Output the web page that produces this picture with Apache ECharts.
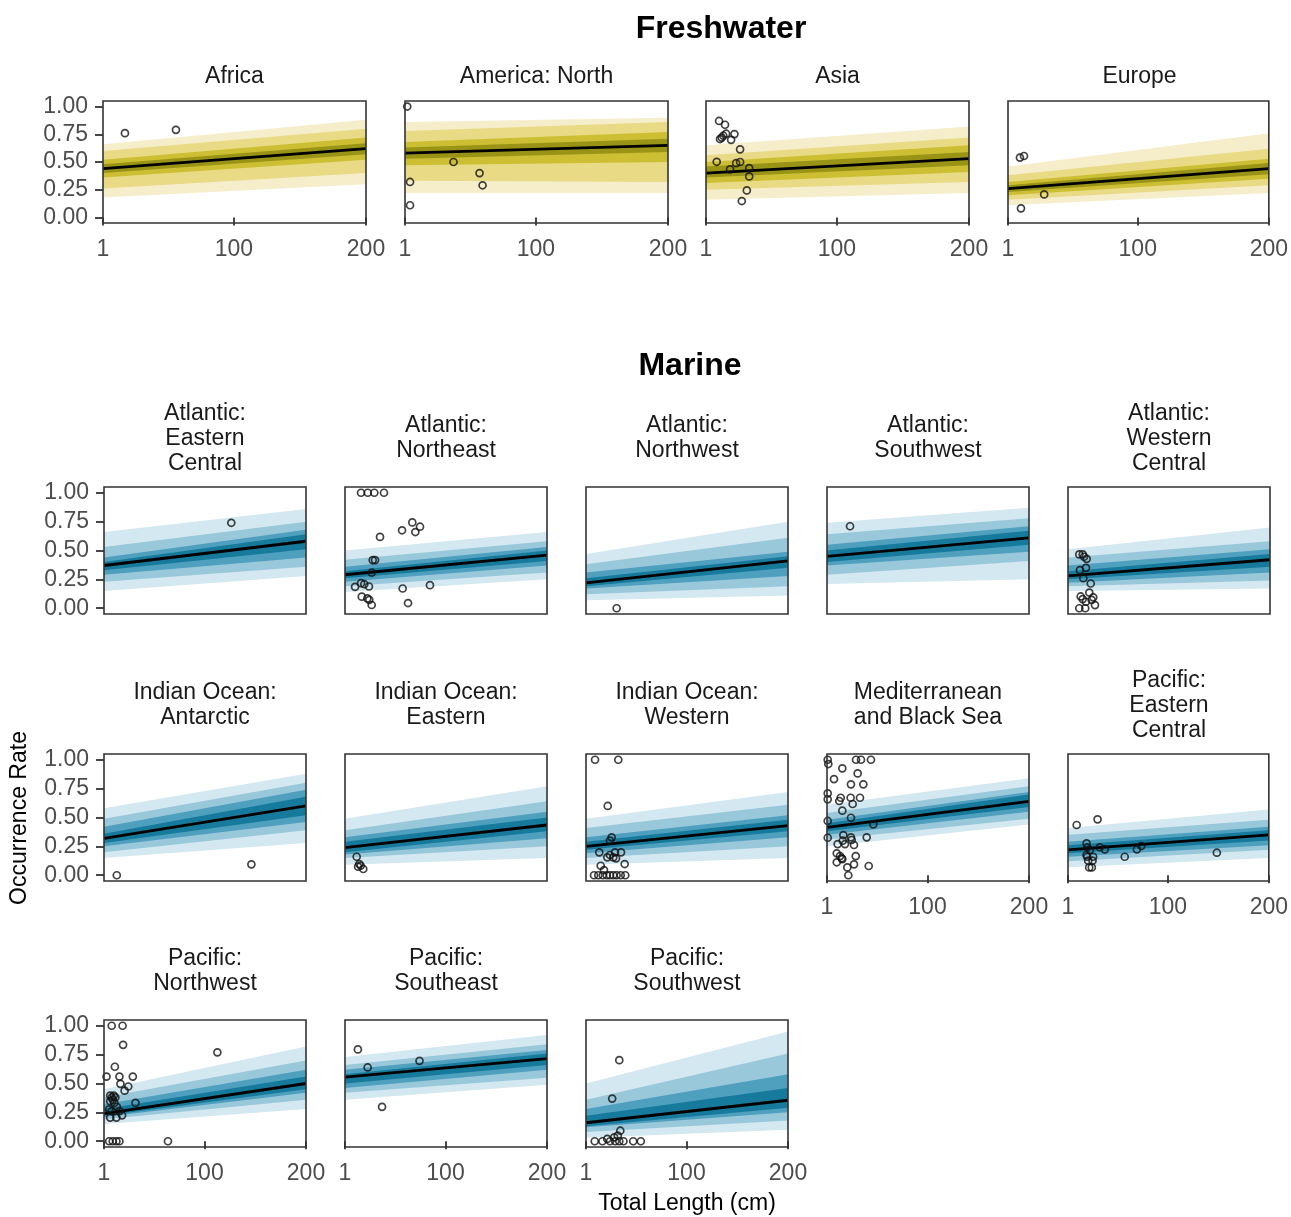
<!DOCTYPE html>
<html>
<head>
<meta charset="utf-8">
<script src="https://cdn.jsdelivr.net/npm/echarts@6/dist/echarts.min.js"></script>
<style>
  html, body { margin: 0; padding: 0; background: #ffffff; }
  #chart { width: 1291px; height: 1217px; }
</style>
</head>
<body>
<div id="chart"></div>
<script>
// Posterior occurrence rate vs. total length, by habitat and FAO region.
// Each band array holds [value at 1 cm, value at 200 cm] for the
// 99%, 95%, 80% and 50% intervals (outer to inner).
const LENGTH_STOPS = [1, 200];
const X_TICKS = [1, 100, 200];
const Y_TICKS = [0, 0.25, 0.5, 0.75, 1];

// ---- Freshwater ----
const africaMedian = [0.44, 0.62];
const africaLo = [[0.18, 0.30], [0.26, 0.40], [0.36, 0.52], [0.40, 0.57]];
const africaHi = [[0.66, 0.88], [0.60, 0.80], [0.52, 0.72], [0.48, 0.67]];
const africaObs = [[17.6, 0.76], [56.2, 0.79]];

const americaNorthMedian = [0.58, 0.65];
const americaNorthLo = [[0.22, 0.22], [0.33, 0.32], [0.47, 0.50], [0.53, 0.59]];
const americaNorthHi = [[0.86, 0.90], [0.78, 0.86], [0.68, 0.77], [0.63, 0.71]];
const americaNorthObs = [[2.7, 1.0], [4.8, 0.32], [4.8, 0.11], [37.7, 0.50], [57.4, 0.40], [59.7, 0.29]];

const asiaMedian = [0.40, 0.53];
const asiaLo = [[0.16, 0.22], [0.25, 0.32], [0.31, 0.41], [0.36, 0.47]];
const asiaHi = [[0.65, 0.82], [0.56, 0.72], [0.50, 0.65], [0.46, 0.59]];
const asiaObs = [[10.9, 0.87], [15.4, 0.836], [11.6, 0.707], [12.9, 0.72], [14.1, 0.737], [16.2, 0.755],
  [22.5, 0.752], [20.0, 0.70], [26.8, 0.614], [9.1, 0.502], [23.8, 0.49], [26.8, 0.50], [19.2, 0.434],
  [33.7, 0.445], [33.7, 0.37], [31.9, 0.244], [28.1, 0.148]];

const europeMedian = [0.26, 0.44];
const europeLo = [[0.11, 0.22], [0.16, 0.29], [0.20, 0.35], [0.23, 0.39]];
const europeHi = [[0.46, 0.76], [0.38, 0.62], [0.32, 0.53], [0.29, 0.49]];
const europeObs = [[10.1, 0.54], [13.2, 0.554], [10.9, 0.082], [28.6, 0.208]];

// ---- Marine ----
const atlEastCentralMedian = [0.37, 0.58];
const atlEastCentralLo = [[0.15, 0.28], [0.23, 0.36], [0.29, 0.44], [0.33, 0.51]];
const atlEastCentralHi = [[0.66, 0.86], [0.53, 0.75], [0.44, 0.68], [0.40, 0.64]];
const atlEastCentralObs = [[126.4, 0.74]];

const atlNortheastMedian = [0.29, 0.46];
const atlNortheastLo = [[0.14, 0.25], [0.19, 0.31], [0.23, 0.37], [0.26, 0.41]];
const atlNortheastHi = [[0.50, 0.66], [0.42, 0.58], [0.36, 0.53], [0.32, 0.50]];
const atlNortheastObs = [[16.8, 1.0], [23.4, 1.0], [29.9, 1.0], [39.4, 1.0], [35.5, 0.618], [57.2, 0.675],
  [67.3, 0.743], [74.9, 0.706], [70.3, 0.66], [28.3, 0.417], [30.6, 0.417], [27.3, 0.308], [10.9, 0.185],
  [16.8, 0.217], [20.0, 0.208], [24.6, 0.188], [57.8, 0.171], [84.7, 0.20], [17.5, 0.10], [23.0, 0.085],
  [24.9, 0.073], [27.3, 0.028], [63.1, 0.045]];

const atlNorthwestMedian = [0.22, 0.41];
const atlNorthwestLo = [[0.07, 0.11], [0.12, 0.19], [0.17, 0.28], [0.19, 0.35]];
const atlNorthwestHi = [[0.47, 0.75], [0.38, 0.61], [0.31, 0.49], [0.26, 0.45]];
const atlNorthwestObs = [[31.2, 0.0]];

const atlSouthwestMedian = [0.45, 0.61];
const atlSouthwestLo = [[0.21, 0.25], [0.29, 0.41], [0.37, 0.49], [0.40, 0.55]];
const atlSouthwestHi = [[0.74, 0.87], [0.64, 0.78], [0.55, 0.71], [0.50, 0.67]];
const atlSouthwestObs = [[23.7, 0.71]];

const atlWestCentralMedian = [0.28, 0.42];
const atlWestCentralLo = [[0.15, 0.17], [0.19, 0.24], [0.22, 0.31], [0.25, 0.36]];
const atlWestCentralHi = [[0.51, 0.70], [0.44, 0.58], [0.37, 0.51], [0.32, 0.47]];
const atlWestCentralObs = [[12.1, 0.466], [15.5, 0.466], [19.4, 0.428], [16.8, 0.446], [18.7, 0.35],
  [12.8, 0.33], [16.1, 0.26], [23.4, 0.214], [22.0, 0.136], [13.5, 0.102], [15.5, 0.079], [18.7, 0.056],
  [25.9, 0.094], [27.6, 0.027], [12.1, 0.0], [18.0, 0.0], [24.3, 0.073]];

const indAntarcticMedian = [0.32, 0.60];
const indAntarcticLo = [[0.15, 0.28], [0.20, 0.39], [0.25, 0.46], [0.28, 0.52]];
const indAntarcticHi = [[0.58, 0.88], [0.49, 0.80], [0.42, 0.74], [0.36, 0.68]];
const indAntarcticObs = [[13.6, 0.0], [146.2, 0.094]];

const indEasternMedian = [0.24, 0.435];
const indEasternLo = [[0.09, 0.15], [0.15, 0.25], [0.18, 0.32], [0.20, 0.38]];
const indEasternHi = [[0.49, 0.77], [0.39, 0.64], [0.33, 0.55], [0.29, 0.50]];
const indEasternObs = [[12.5, 0.16], [15.1, 0.097], [16.5, 0.082], [19.0, 0.054], [13.9, 0.074]];

const indWesternMedian = [0.25, 0.43];
const indWesternLo = [[0.09, 0.15], [0.15, 0.25], [0.19, 0.33], [0.22, 0.38]];
const indWesternHi = [[0.49, 0.72], [0.41, 0.61], [0.33, 0.52], [0.29, 0.48]];
const indWesternObs = [[9.9, 1.0], [32.8, 1.0], [22.4, 0.60], [26.3, 0.328], [24.6, 0.30], [14.1, 0.198],
  [35.5, 0.198], [22.0, 0.155], [27.9, 0.155], [29.6, 0.198], [24.6, 0.175], [30.6, 0.146], [15.5, 0.082],
  [18.7, 0.045], [39.1, 0.097], [8.9, 0.0], [13.1, 0.0], [17.5, 0.0], [21.4, 0.0], [24.6, 0.0], [27.9, 0.0],
  [31.2, 0.0], [35.2, 0.0], [39.7, 0.0]];

const medBlackSeaMedian = [0.415, 0.64];
const medBlackSeaLo = [[0.25, 0.44], [0.31, 0.49], [0.35, 0.55], [0.38, 0.59]];
const medBlackSeaHi = [[0.61, 0.84], [0.54, 0.77], [0.48, 0.72], [0.45, 0.70]];
const medBlackSeaObs = [[1.7, 1.0], [2.3, 0.963], [29.6, 1.0], [34.5, 1.0], [44.3, 1.0], [16.1, 0.926],
  [31.2, 0.882], [7.9, 0.833], [24.6, 0.787], [36.8, 0.787], [1.7, 0.709], [1.7, 0.657], [14.5, 0.671],
  [13.1, 0.643], [24.3, 0.671], [33.5, 0.671], [26.3, 0.617], [16.1, 0.559], [24.6, 0.498], [46.6, 0.441],
  [1.7, 0.47], [1.7, 0.325], [17.1, 0.348], [24.6, 0.328], [11.5, 0.27], [16.5, 0.299], [18.7, 0.27],
  [25.3, 0.305], [27.6, 0.262], [40.1, 0.328], [10.6, 0.19], [13.8, 0.166], [16.1, 0.14], [10.6, 0.112],
  [29.3, 0.166], [27.6, 0.094], [21.0, 0.068], [42.1, 0.08], [22.0, 0.0], [15.5, 0.146]];

const pacEastCentralMedian = [0.22, 0.35];
const pacEastCentralLo = [[0.07, 0.15], [0.12, 0.22], [0.16, 0.26], [0.19, 0.30]];
const pacEastCentralHi = [[0.41, 0.57], [0.35, 0.48], [0.29, 0.42], [0.26, 0.39]];
const pacEastCentralObs = [[9.6, 0.435], [30.3, 0.484], [19.4, 0.276], [20.0, 0.242], [22.7, 0.218],
  [32.5, 0.242], [37.5, 0.224], [20.0, 0.16], [25.9, 0.16], [21.0, 0.126], [25.3, 0.126], [22.0, 0.068],
  [24.6, 0.068], [57.2, 0.16], [69.3, 0.224], [73.6, 0.253], [148.5, 0.195], [19.4, 0.175]];

const pacNorthwestMedian = [0.24, 0.50];
const pacNorthwestLo = [[0.15, 0.28], [0.19, 0.36], [0.21, 0.42], [0.22, 0.45]];
const pacNorthwestHi = [[0.45, 0.82], [0.38, 0.70], [0.32, 0.62], [0.28, 0.56]];
const pacNorthwestObs = [[8.6, 1.0], [19.3, 1.0], [19.8, 0.835], [11.7, 0.645], [3.5, 0.56], [16.2, 0.56],
  [29.4, 0.56], [17.2, 0.497], [24.9, 0.474], [21.3, 0.438], [32.0, 0.332], [112.7, 0.77], [7.1, 0.395],
  [8.6, 0.38], [12.2, 0.38], [9.6, 0.36], [7.1, 0.347], [11.2, 0.332], [13.7, 0.298], [8.6, 0.261],
  [16.2, 0.261], [7.1, 0.205], [13.2, 0.205], [18.8, 0.224], [6.1, 0.276], [6.1, 0.0], [9.6, 0.0],
  [13.2, 0.0], [16.2, 0.0], [64.0, 0.0], [10.6, 0.395]];

const pacSoutheastMedian = [0.555, 0.715];
const pacSoutheastLo = [[0.36, 0.49], [0.42, 0.55], [0.46, 0.62], [0.50, 0.66]];
const pacSoutheastHi = [[0.73, 0.92], [0.66, 0.84], [0.62, 0.79], [0.58, 0.76]];
const pacSoutheastObs = [[13.7, 0.795], [23.3, 0.639], [37.5, 0.298], [74.4, 0.696]];

const pacSouthwestMedian = [0.16, 0.355];
const pacSouthwestLo = [[0.03, 0.10], [0.08, 0.18], [0.12, 0.25], [0.13, 0.29]];
const pacSouthwestHi = [[0.50, 0.95], [0.36, 0.76], [0.28, 0.58], [0.22, 0.46]];
const pacSouthwestObs = [[33.8, 0.702], [26.8, 0.369], [9.6, 0.0], [17.2, 0.0], [24.7, 0.0], [29.8, 0.0],
  [33.8, 0.0], [37.9, 0.0], [47.5, 0.0], [55.0, 0.0], [28.8, 0.034], [32.3, 0.048], [34.8, 0.091],
  [22.0, 0.02]];

// ---- Styling ----
const FONT = '"Liberation Sans", Arial, Helvetica, sans-serif';
const FRESH_COLORS = ['#f6eecb', '#e9da85', '#cdbf34', '#999316'];
const MARINE_COLORS = ['#d3e8f0', '#99c8da', '#4f9fbf', '#157a9c'];

// ---- Layout ----
const FW_LEFTS = [103, 405, 706, 1008], FW_W = 263, FW_TOP = 101, FW_H = 122;
const MA_LEFTS = [104, 345, 586, 827, 1068], MA_W = 202, MA_TOPS = [487, 754, 1020], MA_H = 127;

const panels = [
  { title: 'Africa', fresh: true, col: 0, y: true, x: true, median: africaMedian, lo: africaLo, hi: africaHi, obs: africaObs },
  { title: 'America: North', fresh: true, col: 1, y: false, x: true, median: americaNorthMedian, lo: americaNorthLo, hi: americaNorthHi, obs: americaNorthObs },
  { title: 'Asia', fresh: true, col: 2, y: false, x: true, median: asiaMedian, lo: asiaLo, hi: asiaHi, obs: asiaObs },
  { title: 'Europe', fresh: true, col: 3, y: false, x: true, median: europeMedian, lo: europeLo, hi: europeHi, obs: europeObs },

  { title: 'Atlantic:\nEastern\nCentral', row: 0, col: 0, y: true, x: false, median: atlEastCentralMedian, lo: atlEastCentralLo, hi: atlEastCentralHi, obs: atlEastCentralObs },
  { title: 'Atlantic:\nNortheast', row: 0, col: 1, y: false, x: false, median: atlNortheastMedian, lo: atlNortheastLo, hi: atlNortheastHi, obs: atlNortheastObs },
  { title: 'Atlantic:\nNorthwest', row: 0, col: 2, y: false, x: false, median: atlNorthwestMedian, lo: atlNorthwestLo, hi: atlNorthwestHi, obs: atlNorthwestObs },
  { title: 'Atlantic:\nSouthwest', row: 0, col: 3, y: false, x: false, median: atlSouthwestMedian, lo: atlSouthwestLo, hi: atlSouthwestHi, obs: atlSouthwestObs },
  { title: 'Atlantic:\nWestern\nCentral', row: 0, col: 4, y: false, x: false, median: atlWestCentralMedian, lo: atlWestCentralLo, hi: atlWestCentralHi, obs: atlWestCentralObs },

  { title: 'Indian Ocean:\nAntarctic', row: 1, col: 0, y: true, x: false, median: indAntarcticMedian, lo: indAntarcticLo, hi: indAntarcticHi, obs: indAntarcticObs },
  { title: 'Indian Ocean:\nEastern', row: 1, col: 1, y: false, x: false, median: indEasternMedian, lo: indEasternLo, hi: indEasternHi, obs: indEasternObs },
  { title: 'Indian Ocean:\nWestern', row: 1, col: 2, y: false, x: false, median: indWesternMedian, lo: indWesternLo, hi: indWesternHi, obs: indWesternObs },
  { title: 'Mediterranean\nand Black Sea', row: 1, col: 3, y: false, x: true, median: medBlackSeaMedian, lo: medBlackSeaLo, hi: medBlackSeaHi, obs: medBlackSeaObs },
  { title: 'Pacific:\nEastern\nCentral', row: 1, col: 4, y: false, x: true, median: pacEastCentralMedian, lo: pacEastCentralLo, hi: pacEastCentralHi, obs: pacEastCentralObs },

  { title: 'Pacific:\nNorthwest', row: 2, col: 0, y: true, x: true, median: pacNorthwestMedian, lo: pacNorthwestLo, hi: pacNorthwestHi, obs: pacNorthwestObs },
  { title: 'Pacific:\nSoutheast', row: 2, col: 1, y: false, x: true, median: pacSoutheastMedian, lo: pacSoutheastLo, hi: pacSoutheastHi, obs: pacSoutheastObs },
  { title: 'Pacific:\nSouthwest', row: 2, col: 2, y: false, x: true, median: pacSouthwestMedian, lo: pacSouthwestLo, hi: pacSouthwestHi, obs: pacSouthwestObs }
];

const grids = [], xAxes = [], yAxes = [], series = [], graphics = [];
const tickLine = { color: '#333333', width: 1.8 };
const labelStyle = { fontFamily: FONT, fontSize: 23, color: '#4d4d4d' };

panels.forEach((p, i) => {
  const left = p.fresh ? FW_LEFTS[p.col] : MA_LEFTS[p.col];
  const top = p.fresh ? FW_TOP : MA_TOPS[p.row];
  const width = p.fresh ? FW_W : MA_W;
  const height = p.fresh ? FW_H : MA_H;
  grids.push({ left: left, top: top, width: width, height: height, containLabel: false });

  xAxes.push({
    gridIndex: i, type: 'value', min: 1, max: 200,
    axisLine: { show: false }, splitLine: { show: false },
    axisTick: { show: p.x, length: 8, customValues: X_TICKS, lineStyle: tickLine },
    axisLabel: Object.assign({ show: p.x, margin: 15, customValues: X_TICKS, showMinLabel: true, showMaxLabel: true }, labelStyle)
  });
  yAxes.push({
    gridIndex: i, type: 'value', min: -0.05, max: 1.05,
    axisLine: { show: false }, splitLine: { show: false },
    axisTick: { show: p.y, length: 8, customValues: Y_TICKS, lineStyle: tickLine },
    axisLabel: Object.assign({ show: p.y, margin: 15, customValues: Y_TICKS, showMinLabel: true, showMaxLabel: true,
      formatter: v => Number(v).toFixed(2) }, labelStyle)
  });

  const colors = p.fresh ? FRESH_COLORS : MARINE_COLORS;
  p.lo.forEach((lo, b) => {
    const hi = p.hi[b];
    series.push({
      type: 'custom', xAxisIndex: i, yAxisIndex: i, silent: true, z: 2 + b * 0.01,
      data: [[LENGTH_STOPS[0], lo[0], hi[0]]],
      renderItem: (params, api) => {
        const upper = LENGTH_STOPS.map((x, k) => api.coord([x, hi[k]]));
        const lower = LENGTH_STOPS.map((x, k) => api.coord([x, lo[k]])).reverse();
        return { type: 'polygon', shape: { points: upper.concat(lower) }, style: { fill: colors[b] } };
      }
    });
  });

  series.push({
    type: 'line', xAxisIndex: i, yAxisIndex: i, silent: true, z: 3,
    data: LENGTH_STOPS.map((x, k) => [x, p.median[k]]),
    symbol: 'none', lineStyle: { color: '#000000', width: 2.8 }
  });

  series.push({
    type: 'scatter', xAxisIndex: i, yAxisIndex: i, silent: true, z: 4,
    data: p.obs, symbol: 'circle', symbolSize: 7,
    itemStyle: { color: 'rgba(255,255,255,0)', borderColor: '#111111', borderWidth: 1.7 }
  });

  // panel frame drawn over the ribbons
  series.push({
    type: 'custom', xAxisIndex: i, yAxisIndex: i, silent: true, z: 5,
    data: [[1, 0]],
    renderItem: (params) => ({
      type: 'rect',
      shape: { x: params.coordSys.x, y: params.coordSys.y, width: params.coordSys.width, height: params.coordSys.height },
      style: { fill: null, stroke: '#333333', lineWidth: 1.6 }
    })
  });

  // strip title, vertically centred in the strip above the panel
  graphics.push({
    type: 'text', x: left + width / 2, y: p.fresh ? top - 24 : top - 48.5,
    style: {
      text: p.title, font: '23px ' + FONT, fill: '#1a1a1a',
      textAlign: 'center', textVerticalAlign: 'middle', lineHeight: 25
    }
  });
});

graphics.push(
  { type: 'text', x: 721, y: 29, style: { text: 'Freshwater', font: 'bold 32px ' + FONT, fill: '#000', textAlign: 'center', textVerticalAlign: 'middle' } },
  { type: 'text', x: 690, y: 366, style: { text: 'Marine', font: 'bold 32px ' + FONT, fill: '#000', textAlign: 'center', textVerticalAlign: 'middle' } },
  { type: 'text', x: 20, y: 818, rotation: Math.PI / 2, style: { text: 'Occurrence Rate', font: '23px ' + FONT, fill: '#000', textAlign: 'center', textVerticalAlign: 'middle' } },
  { type: 'text', x: 687, y: 1204, style: { text: 'Total Length (cm)', font: '23px ' + FONT, fill: '#000', textAlign: 'center', textVerticalAlign: 'middle' } }
);

const chart = echarts.init(document.getElementById('chart'), null, { renderer: 'canvas' });
chart.setOption({
  animation: false,
  backgroundColor: '#ffffff',
  grid: grids,
  xAxis: xAxes,
  yAxis: yAxes,
  series: series,
  graphic: graphics
});
</script>
</body>
</html>
